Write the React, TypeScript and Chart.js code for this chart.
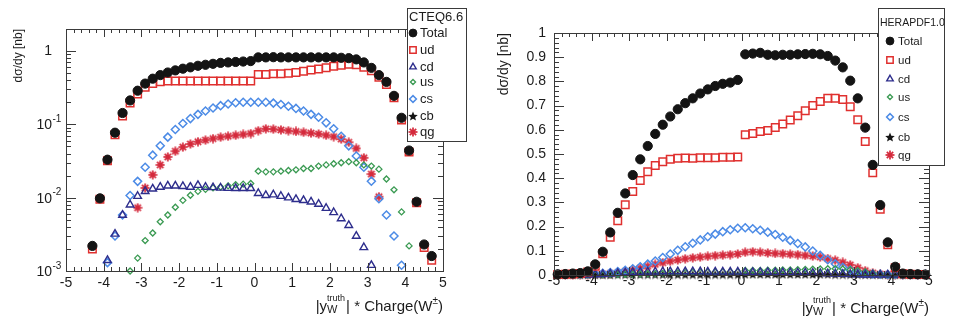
import React, { useEffect, useRef } from 'react';
import { Chart, registerables } from 'chart.js';
import { drawPoint } from 'chart.js/helpers';

Chart.register(...registerables);

const FONT = '"Liberation Sans", Arial, Helvetica, sans-serif';
const TEXT = '#1c1c1c';
const FRAME = '#3a3a3a';

// bin centres of |y_W| * charge
const binCenters = [
  -4.9, -4.7, -4.5, -4.3, -4.1, -3.9, -3.7, -3.5, -3.3, -3.1,
  -2.9, -2.7, -2.5, -2.3, -2.1, -1.9, -1.7, -1.5, -1.3, -1.1,
  -0.9, -0.7, -0.5, -0.3, -0.1, 0.1, 0.3, 0.5, 0.7, 0.9,
  1.1, 1.3, 1.5, 1.7, 1.9, 2.1, 2.3, 2.5, 2.7, 2.9,
  3.1, 3.3, 3.5, 3.7, 3.9, 4.1, 4.3, 4.5, 4.7, 4.9,
];

const xTickValues = [-5, -4, -3, -2, -1, 0, 1, 2, 3, 4, 5];
const xTickLabels = ['-5', '-4', '-3', '-2', '-1', '0', '1', '2', '3', '4', '5'];
const logTickExponents = [0, -1, -2, -3];
const linTickValues = [0, 0.1, 0.2, 0.3, 0.4, 0.5, 0.6, 0.7, 0.8, 0.9, 1];
const linTickLabels = ['0', '0.1', '0.2', '0.3', '0.4', '0.5', '0.6', '0.7', '0.8', '0.9', '1'];

const seriesNames = ['Total', 'ud', 'cd', 'us', 'cs', 'cb', 'qg'];

// ---------- CTEQ6.6 (left, log scale) ----------
const cteqTotal = [
  null, null, null, 0.0022, 0.0098, 0.033, 0.077, 0.143, 0.212, 0.288,
  0.36, 0.42, 0.47, 0.51, 0.545, 0.575, 0.60, 0.63, 0.65, 0.67,
  0.69, 0.70, 0.71, 0.72, 0.73, 0.82, 0.82, 0.825, 0.82, 0.82,
  0.82, 0.82, 0.82, 0.82, 0.82, 0.82, 0.81, 0.80, 0.77, 0.70,
  0.59, 0.47, 0.38, 0.245, 0.123, 0.044, 0.0088, 0.0023, 0.0016, null,
];
const cteqUd = [
  null, null, null, 0.0020, 0.0095, 0.032, 0.072, 0.13, 0.195, 0.26,
  0.32, 0.36, 0.38, 0.39, 0.39, 0.39, 0.39, 0.39, 0.39, 0.39,
  0.39, 0.39, 0.39, 0.39, 0.39, 0.48, 0.48, 0.49, 0.49, 0.50,
  0.51, 0.53, 0.55, 0.57, 0.59, 0.62, 0.64, 0.66, 0.65, 0.60,
  0.54, 0.44, 0.35, 0.23, 0.115, 0.042, 0.0085, 0.0021, 0.0014, null,
];
const cteqCd = [
  null, null, null, null, null, 0.0014, 0.0032, 0.0058, 0.008, 0.0105,
  0.0122, 0.0132, 0.014, 0.0145, 0.0145, 0.0143, 0.014, 0.0148, 0.014, 0.0138,
  0.0136, 0.0135, 0.0134, 0.0134, 0.0134, 0.0115, 0.0108, 0.011, 0.0105, 0.0100,
  0.0095, 0.0092, 0.0088, 0.0082, 0.0072, 0.0063, 0.0052, 0.0042, 0.003, 0.0021,
  0.0012, null, null, null, null, null, null, null, null, null,
];
const cteqUs = [
  null, null, null, null, null, null, null, null, 0.001, 0.0015,
  0.0026, 0.0033, 0.0047, 0.0058, 0.0074, 0.0092, 0.0108, 0.0122, 0.013, 0.0136,
  0.014, 0.0145, 0.015, 0.0153, 0.0156, 0.023, 0.0225, 0.0225, 0.023, 0.0235,
  0.024, 0.025, 0.025, 0.027, 0.028, 0.029, 0.030, 0.031, 0.030, 0.028,
  0.027, 0.0245, 0.018, 0.0128, 0.0064, 0.0022, null, null, null, null,
];
const cteqCs = [
  null, null, null, null, null, 0.0013, 0.003, 0.0058, 0.0107, 0.0167,
  0.026, 0.038, 0.051, 0.067, 0.085, 0.103, 0.12, 0.137, 0.152, 0.167,
  0.18, 0.19, 0.197, 0.20, 0.20, 0.20, 0.20, 0.195, 0.187, 0.177,
  0.165, 0.152, 0.137, 0.125, 0.105, 0.087, 0.069, 0.051, 0.037, 0.026,
  0.0168, 0.0097, 0.0058, 0.003, 0.0012, null, null, null, null, null,
];
const cteqQg = [
  null, null, null, null, null, null, null, null, null, 0.0073,
  0.0136, 0.0205, 0.028, 0.036, 0.043, 0.049, 0.054, 0.058, 0.061, 0.064,
  0.067, 0.069, 0.071, 0.073, 0.075, 0.082, 0.087, 0.086, 0.084, 0.082,
  0.080, 0.078, 0.076, 0.074, 0.071, 0.068, 0.063, 0.057, 0.047, 0.035,
  0.021, 0.0103, null, null, null, null, null, null, null, null,
];

// ---------- HERAPDF1.0 (right, linear scale) ----------
const heraTotal = [
  0.003, 0.004, 0.006, 0.008, 0.015, 0.044, 0.096, 0.176, 0.257, 0.337,
  0.413, 0.478, 0.533, 0.583, 0.621, 0.655, 0.685, 0.710, 0.730, 0.750,
  0.767, 0.781, 0.790, 0.795, 0.806, 0.912, 0.915, 0.918, 0.910, 0.908,
  0.910, 0.910, 0.912, 0.913, 0.914, 0.912, 0.905, 0.886, 0.858, 0.803,
  0.730, 0.609, 0.455, 0.289, 0.135, 0.034, 0.006, 0.004, 0.003, 0.002,
];
const heraUd = [
  0.002, 0.003, 0.004, 0.006, 0.012, 0.036, 0.088, 0.156, 0.224, 0.290,
  0.345, 0.390, 0.427, 0.452, 0.468, 0.478, 0.482, 0.483, 0.482, 0.485,
  0.484, 0.485, 0.487, 0.487, 0.488, 0.580, 0.585, 0.593, 0.597, 0.610,
  0.624, 0.640, 0.658, 0.679, 0.700, 0.717, 0.730, 0.730, 0.725, 0.695,
  0.642, 0.552, 0.422, 0.272, 0.125, 0.030, 0.005, 0.003, 0.002, 0.002,
];
const heraCd = [
  0.001, 0.001, 0.001, 0.001, 0.001, 0.002, 0.003, 0.005, 0.007, 0.009,
  0.011, 0.012, 0.013, 0.013, 0.014, 0.014, 0.014, 0.014, 0.014, 0.014,
  0.013, 0.013, 0.013, 0.013, 0.013, 0.011, 0.011, 0.011, 0.011, 0.010,
  0.010, 0.010, 0.009, 0.009, 0.008, 0.007, 0.006, 0.005, 0.004, 0.003,
  0.002, 0.001, 0.001, 0.001, 0.001, 0.001, 0.001, 0.001, 0.001, 0.001,
];
const heraUs = [
  0.001, 0.001, 0.001, 0.001, 0.001, 0.001, 0.001, 0.002, 0.002, 0.003,
  0.003, 0.004, 0.005, 0.006, 0.007, 0.008, 0.009, 0.010, 0.011, 0.011,
  0.012, 0.012, 0.013, 0.013, 0.013, 0.019, 0.019, 0.019, 0.020, 0.020,
  0.021, 0.021, 0.022, 0.023, 0.024, 0.025, 0.026, 0.026, 0.025, 0.022,
  0.018, 0.013, 0.008, 0.004, 0.002, 0.001, 0.001, 0.001, 0.001, 0.001,
];
const heraCs = [
  0.002, 0.002, 0.003, 0.003, 0.004, 0.005, 0.007, 0.010, 0.014, 0.019,
  0.026, 0.034, 0.045, 0.058, 0.072, 0.087, 0.102, 0.117, 0.131, 0.145,
  0.158, 0.169, 0.179, 0.187, 0.193, 0.195, 0.191, 0.185, 0.177, 0.167,
  0.156, 0.143, 0.130, 0.116, 0.099, 0.081, 0.063, 0.046, 0.032, 0.020,
  0.012, 0.007, 0.004, 0.003, 0.002, 0.002, 0.001, 0.001, 0.001, 0.001,
];
const heraCb = [
  0.001, 0.001, 0.001, 0.001, 0.001, 0.001, 0.001, 0.001, 0.002, 0.002,
  0.002, 0.002, 0.002, 0.002, 0.002, 0.002, 0.002, 0.002, 0.002, 0.002,
  0.002, 0.002, 0.002, 0.002, 0.002, 0.003, 0.003, 0.003, 0.003, 0.003,
  0.003, 0.003, 0.003, 0.003, 0.003, 0.003, 0.003, 0.002, 0.002, 0.002,
  0.002, 0.001, 0.001, 0.001, 0.001, 0.001, 0.001, 0.001, 0.001, 0.001,
];
const heraQg = [
  0.001, 0.001, 0.001, 0.002, 0.002, 0.003, 0.004, 0.006, 0.009, 0.014,
  0.020, 0.028, 0.036, 0.044, 0.051, 0.057, 0.062, 0.067, 0.071, 0.074,
  0.077, 0.080, 0.082, 0.084, 0.087, 0.094, 0.096, 0.094, 0.091, 0.089,
  0.088, 0.086, 0.084, 0.081, 0.078, 0.074, 0.068, 0.061, 0.052, 0.042,
  0.030, 0.018, 0.009, 0.004, 0.002, 0.001, 0.001, 0.001, 0.001, 0.001,
];

// ---------- marker images ----------
function makeStar(color: string, d: number) {
  const c = document.createElement('canvas');
  c.width = d; c.height = d;
  const ctx = c.getContext('2d')!;
  ctx.fillStyle = color;
  ctx.beginPath();
  const cx = d / 2, cy = d / 2 + 0.5, R = d / 2, r = R * 0.45;
  for (let k = 0; k < 10; k++) {
    const a = -Math.PI / 2 + (k * Math.PI) / 5;
    const rr = k % 2 ? r : R;
    ctx.lineTo(cx + rr * Math.cos(a), cy + rr * Math.sin(a));
  }
  ctx.closePath();
  ctx.fill();
  return c;
}
function makeAsterisk(color: string, d: number) {
  const c = document.createElement('canvas');
  c.width = d; c.height = d;
  const ctx = c.getContext('2d')!;
  ctx.strokeStyle = color;
  ctx.fillStyle = color;
  ctx.lineWidth = 1.7;
  const cx = d / 2, cy = d / 2, R = d / 2 - 0.5;
  for (let k = 0; k < 4; k++) {
    const a = (k * Math.PI) / 4;
    ctx.beginPath();
    ctx.moveTo(cx - R * Math.cos(a), cy - R * Math.sin(a));
    ctx.lineTo(cx + R * Math.cos(a), cy + R * Math.sin(a));
    ctx.stroke();
  }
  ctx.beginPath();
  ctx.arc(cx, cy, 2.3, 0, Math.PI * 2);
  ctx.fill();
  return c;
}

type MarkerStyle = { pointStyle: any; radius: number; border: string; fill: string; bw: number };

function buildStyles(): Record<string, MarkerStyle> {
  return {
    Total: { pointStyle: 'circle', radius: 4.6, border: '#141414', fill: '#141414', bw: 1 },
    ud: { pointStyle: 'rect', radius: 5.3, border: '#e0302f', fill: 'rgba(0,0,0,0)', bw: 1.5 },
    cd: { pointStyle: 'triangle', radius: 4.4, border: '#2d2d8c', fill: 'rgba(0,0,0,0)', bw: 1.4 },
    us: { pointStyle: 'rectRot', radius: 3.0, border: '#3a9a52', fill: 'rgba(0,0,0,0)', bw: 1.3 },
    cs: { pointStyle: 'rectRot', radius: 4.0, border: '#4c8be6', fill: 'rgba(0,0,0,0)', bw: 1.5 },
    cb: { pointStyle: makeStar('#141414', 10), radius: 5, border: '#141414', fill: '#141414', bw: 0 },
    qg: { pointStyle: makeAsterisk('#d42a3c', 10), radius: 5, border: '#d42a3c', fill: '#d42a3c', bw: 0 },
  };
}

type PanelCfg = {
  left: number;
  yLog: boolean;
  yMin: number;
  yMax: number;
  padding: { left: number; right: number; top: number; bottom: number };
  yAxisWidth: number;
  xAxisHeight: number;
  series: { name: string; values: (number | null)[] }[];
  legendNames: string[];
  legendBox: { x: number; y: number; w: number; h: number };
  legendTitle: string;
  legendTitleX: number;
  legendTitleY: number;
  legendTitleFont: number;
  legendRows: number[];
  legendMarkerX: number;
  legendTextX: number;
  legendFont: number;
  yTitleX: number;
  yTitleFont: number;
  xLabelY: number;
  xTitleBaseline: number;
  yLabelRight: number;
};

const cteqCfg: PanelCfg = {
  left: 0,
  yLog: true,
  yMin: 0.001,
  yMax: 2,
  padding: { left: 0, right: 35, top: 29, bottom: 0 },
  yAxisWidth: 66,
  xAxisHeight: 51,
  series: [
    { name: 'Total', values: cteqTotal },
    { name: 'ud', values: cteqUd },
    { name: 'cd', values: cteqCd },
    { name: 'us', values: cteqUs },
    { name: 'cs', values: cteqCs },
    { name: 'qg', values: cteqQg },
  ],
  legendNames: seriesNames,
  legendBox: { x: 407, y: 8, w: 59, h: 133 },
  legendTitle: 'CTEQ6.6',
  legendTitleX: 409,
  legendTitleY: 17,
  legendTitleFont: 13,
  legendRows: [33, 50, 67, 82, 99, 116, 132],
  legendMarkerX: 413,
  legendTextX: 420,
  legendFont: 13,
  yTitleX: 19,
  yTitleFont: 12,
  xLabelY: 283,
  xTitleBaseline: 311,
  yLabelRight: 52,
};

const heraCfg: PanelCfg = {
  left: 478,
  yLog: false,
  yMin: 0,
  yMax: 1,
  padding: { left: 0, right: 27, top: 33, bottom: 0 },
  yAxisWidth: 76,
  xAxisHeight: 47,
  series: [
    { name: 'Total', values: heraTotal },
    { name: 'ud', values: heraUd },
    { name: 'cd', values: heraCd },
    { name: 'us', values: heraUs },
    { name: 'cs', values: heraCs },
    { name: 'cb', values: heraCb },
    { name: 'qg', values: heraQg },
  ],
  legendNames: seriesNames,
  legendBox: { x: 400, y: 8, w: 66, h: 157 },
  legendTitle: 'HERAPDF1.0',
  legendTitleX: 402,
  legendTitleY: 23,
  legendTitleFont: 10.5,
  legendRows: [41, 60, 79, 97, 117, 137, 155],
  legendMarkerX: 412,
  legendTextX: 420,
  legendFont: 11.5,
  yTitleX: 26.5,
  yTitleFont: 14,
  xLabelY: 281,
  xTitleBaseline: 313,
  yLabelRight: 68,
};

function line(ctx: CanvasRenderingContext2D, x1: number, y1: number, x2: number, y2: number) {
  ctx.beginPath();
  ctx.moveTo(x1, y1);
  ctx.lineTo(x2, y2);
  ctx.stroke();
}

function drawXTitle(ctx: CanvasRenderingContext2D, right: number, baseline: number) {
  const big = 15;
  const segs = [
    { t: '|y', f: big, dy: 0, sub: '' },
    { t: 'truth', f: 9, dy: -10, sub: 'W' },
    { t: '| * Charge(W', f: big, dy: 0, sub: '' },
    { t: '\u00b1', f: 10, dy: -7, sub: '' },
    { t: ')', f: big, dy: 0, sub: '' },
  ];
  const widths = segs.map((s) => {
    ctx.font = `${s.f}px ${FONT}`;
    let w = ctx.measureText(s.t).width;
    if (s.sub) {
      ctx.font = `11px ${FONT}`;
      w = Math.max(w, ctx.measureText(s.sub).width);
    }
    return w + (s.sub ? 1 : 0);
  });
  const total = widths.reduce((a, b) => a + b, 0);
  let x = right - total;
  ctx.fillStyle = TEXT;
  ctx.textAlign = 'left';
  ctx.textBaseline = 'alphabetic';
  segs.forEach((s, i) => {
    ctx.font = `${s.f}px ${FONT}`;
    ctx.fillText(s.t, x, baseline + s.dy);
    if (s.sub) {
      ctx.font = `11px ${FONT}`;
      ctx.fillText(s.sub, x, baseline + 2);
    }
    x += widths[i];
  });
}

function makePlugin(cfg: PanelCfg, styles: Record<string, MarkerStyle>) {
  return {
    id: 'rootStyle',
    afterDraw(chart: any) {
      const ctx: CanvasRenderingContext2D = chart.ctx;
      const a = chart.chartArea;
      const xs = chart.scales.x;
      const ys = chart.scales.y;
      ctx.save();
      // frame
      ctx.strokeStyle = FRAME;
      ctx.lineWidth = 1;
      ctx.strokeRect(a.left + 0.5, a.top + 0.5, a.right - a.left, a.bottom - a.top);
      // x ticks (every 0.2, major every 1)
      for (let k = 0; k <= 50; k++) {
        const v = -5 + k * 0.2;
        const px = Math.round(xs.getPixelForValue(v)) + 0.5;
        const len = k % 5 === 0 ? 8 : 4;
        line(ctx, px, a.bottom, px, a.bottom - len);
        line(ctx, px, a.top, px, a.top + len);
      }
      // y ticks
      const yTick = (v: number, len: number) => {
        const py = Math.round(ys.getPixelForValue(v)) + 0.5;
        line(ctx, a.left, py, a.left + len, py);
        line(ctx, a.right, py, a.right - len, py);
      };
      if (cfg.yLog) {
        for (let e = -3; e <= 0; e++) {
          for (let m = 1; m <= 9; m++) {
            const v = m * Math.pow(10, e);
            if (v > cfg.yMax + 1e-9) continue;
            yTick(v, m === 1 ? 10 : 5);
          }
        }
      } else {
        for (let k = 0; k <= 50; k++) {
          yTick(k * 0.02, k % 5 === 0 ? 10 : 5);
        }
      }
      // x tick labels
      ctx.fillStyle = TEXT;
      ctx.font = `14px ${FONT}`;
      ctx.textAlign = 'center';
      ctx.textBaseline = 'middle';
      xTickValues.forEach((v, i) => {
        ctx.fillText(xTickLabels[i], xs.getPixelForValue(v), cfg.xLabelY);
      });
      // y tick labels
      if (cfg.yLog) {
        logTickExponents.forEach((e) => {
          const py = ys.getPixelForValue(Math.pow(10, e));
          ctx.font = `14px ${FONT}`;
          ctx.textAlign = 'right';
          ctx.textBaseline = 'middle';
          if (e === 0) {
            ctx.fillText('1', cfg.yLabelRight, py);
          } else {
            ctx.fillText('10', cfg.yLabelRight, py + 1);
            ctx.font = `10px ${FONT}`;
            ctx.textAlign = 'left';
            ctx.fillText(`-${-e}`, cfg.yLabelRight + 0.5, py - 5);
          }
        });
      } else {
        ctx.font = `14px ${FONT}`;
        ctx.textAlign = 'right';
        ctx.textBaseline = 'middle';
        linTickValues.forEach((v, i) => {
          ctx.fillText(linTickLabels[i], cfg.yLabelRight, ys.getPixelForValue(v));
        });
      }
      // y axis title
      ctx.save();
      ctx.translate(cfg.yTitleX, a.top);
      ctx.rotate(-Math.PI / 2);
      ctx.font = `${cfg.yTitleFont}px ${FONT}`;
      ctx.textAlign = 'right';
      ctx.textBaseline = 'middle';
      ctx.fillText('d\u03c3/dy [nb]', 0, 0);
      ctx.restore();
      // x axis title
      drawXTitle(ctx, a.right, cfg.xTitleBaseline);
      // legend
      const b = cfg.legendBox;
      ctx.fillStyle = '#ffffff';
      ctx.fillRect(b.x, b.y, b.w, b.h);
      ctx.strokeStyle = FRAME;
      ctx.lineWidth = 1;
      ctx.strokeRect(b.x + 0.5, b.y + 0.5, b.w, b.h);
      ctx.fillStyle = TEXT;
      ctx.font = `${cfg.legendTitleFont}px ${FONT}`;
      ctx.textAlign = 'left';
      ctx.textBaseline = 'middle';
      ctx.fillText(cfg.legendTitle, cfg.legendTitleX, cfg.legendTitleY);
      cfg.legendNames.forEach((name, i) => {
        const st = styles[name];
        const y = cfg.legendRows[i];
        ctx.save();
        ctx.strokeStyle = st.border;
        ctx.fillStyle = st.fill;
        ctx.lineWidth = st.bw;
        drawPoint(ctx, { pointStyle: st.pointStyle, radius: st.radius * 0.85, rotation: 0, borderWidth: st.bw } as any, cfg.legendMarkerX, y);
        ctx.restore();
        ctx.fillStyle = TEXT;
        ctx.font = `${cfg.legendFont}px ${FONT}`;
        ctx.textAlign = 'left';
        ctx.textBaseline = 'middle';
        ctx.fillText(name, cfg.legendTextX, y + 0.5);
      });
      ctx.restore();
    },
  };
}

function Panel({ cfg }: { cfg: PanelCfg }) {
  const ref = useRef<HTMLCanvasElement>(null);
  useEffect(() => {
    const canvas = ref.current!;
    const styles = buildStyles();
    const datasets = cfg.series.map((s) => {
      const st = styles[s.name];
      return {
        label: s.name,
        data: binCenters.map((x, i) => ({ x, y: s.values[i] })),
        showLine: false,
        pointStyle: st.pointStyle,
        pointRadius: st.radius,
        pointBorderWidth: st.bw,
        pointBorderColor: st.border,
        pointBackgroundColor: st.fill,
        clip: false as any,
      };
    });
    const chart = new Chart(canvas, {
      type: 'scatter',
      data: { datasets: datasets as any },
      options: {
        animation: false,
        responsive: false,
        events: [],
        layout: { padding: cfg.padding },
        plugins: { legend: { display: false }, tooltip: { enabled: false }, title: { display: false } },
        scales: {
          x: {
            type: 'linear',
            min: -5,
            max: 5,
            ticks: { display: false, stepSize: 1 },
            grid: { display: false },
            border: { display: false },
            afterFit: (s: any) => { s.height = cfg.xAxisHeight; },
          },
          y: {
            type: cfg.yLog ? 'logarithmic' : 'linear',
            min: cfg.yMin,
            max: cfg.yMax,
            ticks: { display: false },
            grid: { display: false },
            border: { display: false },
            afterFit: (s: any) => { s.width = cfg.yAxisWidth; },
          },
        },
      } as any,
      plugins: [makePlugin(cfg, styles) as any],
    });
    return () => chart.destroy();
  }, [cfg]);
  return (
    <canvas
      ref={ref}
      width={478}
      height={322}
      style={{ position: 'absolute', left: cfg.left, top: 0, width: 478, height: 322 }}
    />
  );
}

export default function App() {
  return (
    <div style={{ position: 'absolute', left: 0, top: 0, width: 956, height: 322, background: '#ffffff', overflow: 'hidden' }}>
      <Panel cfg={cteqCfg} />
      <Panel cfg={heraCfg} />
    </div>
  );
}
